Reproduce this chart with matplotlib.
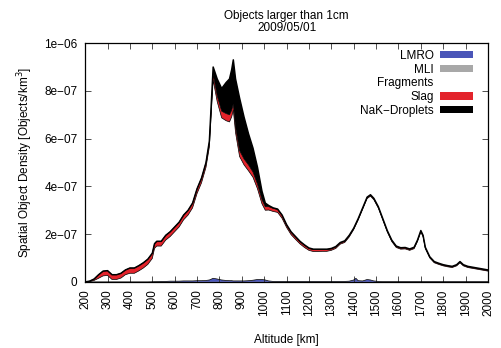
import numpy as np
import matplotlib
matplotlib.use("Agg")
import matplotlib.pyplot as plt

plt.rcParams['font.family'] = ['Liberation Sans', 'DejaVu Sans']

# altitude grid [km]
alt = [200, 220, 240, 260, 280, 300, 320, 340, 360, 380, 400, 420, 440, 460, 480,
       500, 510, 520, 540, 560, 580, 600, 620, 640, 660, 680, 700, 720, 740, 755,
       772, 790, 810, 830, 845, 855, 862, 872, 890, 910, 930, 950, 970, 990, 1005,
       1020, 1040, 1060, 1080, 1100, 1120, 1140, 1160, 1180, 1200, 1220, 1240, 1260,
       1280, 1300, 1320, 1340, 1360, 1380, 1400, 1410, 1420, 1440, 1460, 1475, 1490,
       1510, 1530, 1550, 1570, 1590, 1610, 1630, 1650, 1670, 1685, 1700, 1710, 1720,
       1740, 1760, 1780, 1800, 1820, 1840, 1860, 1875, 1890, 1910, 1940, 1970, 2000]

# total density (top of stack), units of 1e-7 objects/km^3
total = [0.0, 0.03, 0.12, 0.3, 0.45, 0.47, 0.3, 0.3, 0.36, 0.5, 0.58, 0.58, 0.68, 0.8, 0.95,
         1.2, 1.6, 1.7, 1.7, 1.95, 2.1, 2.3, 2.5, 2.8, 3.0, 3.3, 3.9, 4.35, 5.0, 5.9,
         9.0, 8.5, 8.1, 8.35, 8.5, 8.9, 9.3, 8.5, 7.7, 6.9, 6.2, 5.6, 4.8, 3.8, 3.3,
         3.2, 3.1, 3.05, 2.8, 2.4, 2.1, 1.9, 1.7, 1.55, 1.42, 1.37, 1.37, 1.37,
         1.37, 1.4, 1.48, 1.65, 1.72, 1.95, 2.25, 2.45, 2.65, 3.1, 3.55, 3.65, 3.5,
         3.15, 2.65, 2.15, 1.75, 1.5, 1.43, 1.44, 1.38, 1.45, 1.75, 2.15, 1.95, 1.45,
         1.05, 0.85, 0.78, 0.72, 0.68, 0.65, 0.72, 0.85, 0.72, 0.65, 0.6, 0.55, 0.5]

lmro = [0, 0, 0, 0, 0, 0, 0, 0, 0, 0, 0, 0, 0, 0, 0,
        0.005, 0.01, 0.01, 0.02, 0.02, 0.03, 0.03, 0.03, 0.04, 0.04, 0.04, 0.05, 0.05, 0.06, 0.08,
        0.15, 0.12, 0.08, 0.06, 0.05, 0.05, 0.04, 0.04, 0.04, 0.04, 0.05, 0.07, 0.1, 0.1, 0.08,
        0.04, 0.02, 0.02, 0.02, 0.02, 0.02, 0.02, 0.02, 0.02, 0.02, 0.02, 0.02, 0.02,
        0.02, 0.02, 0.02, 0.02, 0.02, 0.03, 0.08, 0.15, 0.05, 0.04, 0.1, 0.08, 0.04,
        0.02, 0.01, 0.01, 0.01, 0.01, 0.01, 0.01, 0.01, 0.01, 0.01, 0.01, 0.01, 0.01,
        0.01, 0.01, 0.01, 0.01, 0.01, 0.01, 0.01, 0.01, 0.01, 0.01, 0.01, 0.01, 0.01]

mli = [0, 0, 0, 0, 0, 0, 0, 0, 0, 0, 0, 0, 0, 0, 0,
       0.005, 0.005, 0.005, 0.005, 0.005, 0.005, 0.005, 0.005, 0.005, 0.005, 0.005, 0.005, 0.005, 0.005, 0.005,
       0.01, 0.01, 0.01, 0.01, 0.01, 0.01, 0.01, 0.01, 0.01, 0.01, 0.01, 0.01, 0.01, 0.01, 0.01,
       0.005, 0.005, 0.005, 0.005, 0.005, 0.005, 0.005, 0.005, 0.005, 0.005, 0.005, 0.005, 0.005,
       0.005, 0.005, 0.005, 0.005, 0.005, 0.005, 0.005, 0.005, 0.005, 0.005, 0.005, 0.005, 0.005,
       0.005, 0, 0, 0, 0, 0, 0, 0, 0, 0, 0, 0, 0,
       0, 0, 0, 0, 0, 0, 0, 0, 0, 0, 0, 0, 0]

slag = [0.0, 0.02, 0.06, 0.15, 0.2, 0.2, 0.2, 0.2, 0.2, 0.2, 0.22, 0.22, 0.22, 0.22, 0.22,
        0.22, 0.2, 0.2, 0.2, 0.2, 0.2, 0.2, 0.2, 0.2, 0.2, 0.2, 0.2, 0.2, 0.2, 0.2,
        0.25, 0.25, 0.28, 0.3, 0.3, 0.28, 0.25, 0.25, 0.25, 0.25, 0.25, 0.22, 0.2, 0.18, 0.15,
        0.14, 0.13, 0.12, 0.12, 0.1, 0.1, 0.1, 0.09, 0.09, 0.08, 0.08, 0.08, 0.07,
        0.07, 0.06, 0.06, 0.05, 0.05, 0.05, 0.04, 0.04, 0.04, 0.04, 0.04, 0.04, 0.04,
        0.04, 0.04, 0.04, 0.04, 0.04, 0.04, 0.04, 0.04, 0.04, 0.04, 0.04, 0.04, 0.04,
        0.03, 0.03, 0.03, 0.03, 0.03, 0.03, 0.03, 0.03, 0.03, 0.03, 0.03, 0.03, 0.03]

nak = [0, 0, 0, 0, 0, 0, 0, 0, 0, 0, 0, 0, 0, 0, 0,
       0, 0, 0, 0, 0, 0, 0, 0, 0, 0, 0, 0, 0, 0, 0.05,
       0.3, 0.7, 0.95, 1.3, 1.5, 1.7, 1.85, 2.0, 2.2, 1.75, 1.3, 1.0, 0.7, 0.35, 0.15,
       0.05, 0.02, 0.02, 0.02, 0.02, 0.02, 0.02, 0.02, 0.02, 0.02, 0.02, 0.02, 0.02,
       0.02, 0.02, 0.02, 0.02, 0.02, 0.02, 0.02, 0.02, 0.02, 0.02, 0.02, 0.02, 0.02,
       0.02, 0.02, 0.02, 0.02, 0.02, 0.02, 0.02, 0.02, 0.02, 0.02, 0.02, 0.02, 0.02,
       0.02, 0.02, 0.02, 0.02, 0.02, 0.02, 0.02, 0.02, 0.02, 0.02, 0.02, 0.02, 0.02]

labels = ['LMRO', 'MLI', 'Fragments', 'Slag', 'NaK\u2212Droplets']
colors = ['#4a55b8', '#a8a8a8', '#ffffff', '#e3232b', '#000000']
xticks = list(range(200, 2001, 100))
yticks = [0, 2e-7, 4e-7, 6e-7, 8e-7, 1e-6]
yticklabels = ['0', '2e\u221207', '4e\u221207', '6e\u221207', '8e\u221207', '1e\u221206']

x = np.array(alt)
# fragments fill whatever is left under the total curve
frag = np.array(total) - np.array(lmro) - np.array(mli) - np.array(slag) - np.array(nak)
layers = [np.array(lmro), np.array(mli), frag, np.array(slag), np.array(nak)]
layers = [l * 1e-7 for l in layers]

fs = 8.5
fig = plt.figure(figsize=(5.01, 3.48), dpi=100)
ax = fig.add_axes([0.170, 0.190, 0.804, 0.686])

ax.stackplot(x, layers, colors=colors, labels=labels, linewidth=0)
cum = np.cumsum(layers, axis=0)
for i, c in enumerate(cum[:-1]):
    if i in (0, 2, 3):
        ax.plot(x, c, color='black', lw=0.5)
ax.plot(x, cum[-1], color='black', lw=1.1)

ax.set_xlim(200, 2000)
ax.set_ylim(0, 1e-6)
ax.set_xticks(xticks)
ax.set_xticklabels([str(v) for v in xticks], rotation=90)
ax.set_yticks(yticks)
ax.set_yticklabels(yticklabels)
ax.tick_params(direction='in', top=True, right=True, length=4, width=0.6,
               labelsize=fs, pad=5.5, color='#333333')
for s in ax.spines.values():
    s.set_linewidth(0.9)

ax.set_xlabel('Altitude [km]', fontsize=fs, labelpad=13)
ax.set_ylabel('Spatial Object Density [Objects/km$^3$]', fontsize=fs, labelpad=7)
ax.set_title('Objects larger than 1cm\n2009/05/01', fontsize=fs, pad=9, linespacing=1.0)

leg = ax.legend(loc='upper right', bbox_to_anchor=(0.963, 0.972), frameon=False,
                markerfirst=False, fontsize=fs, handlelength=2.8, handleheight=0.55,
                handletextpad=0.55, labelspacing=0.15, borderpad=0, borderaxespad=0)
for t in leg.get_texts():
    t.set_ha('right')

fig.savefig('out.png', dpi=100)
